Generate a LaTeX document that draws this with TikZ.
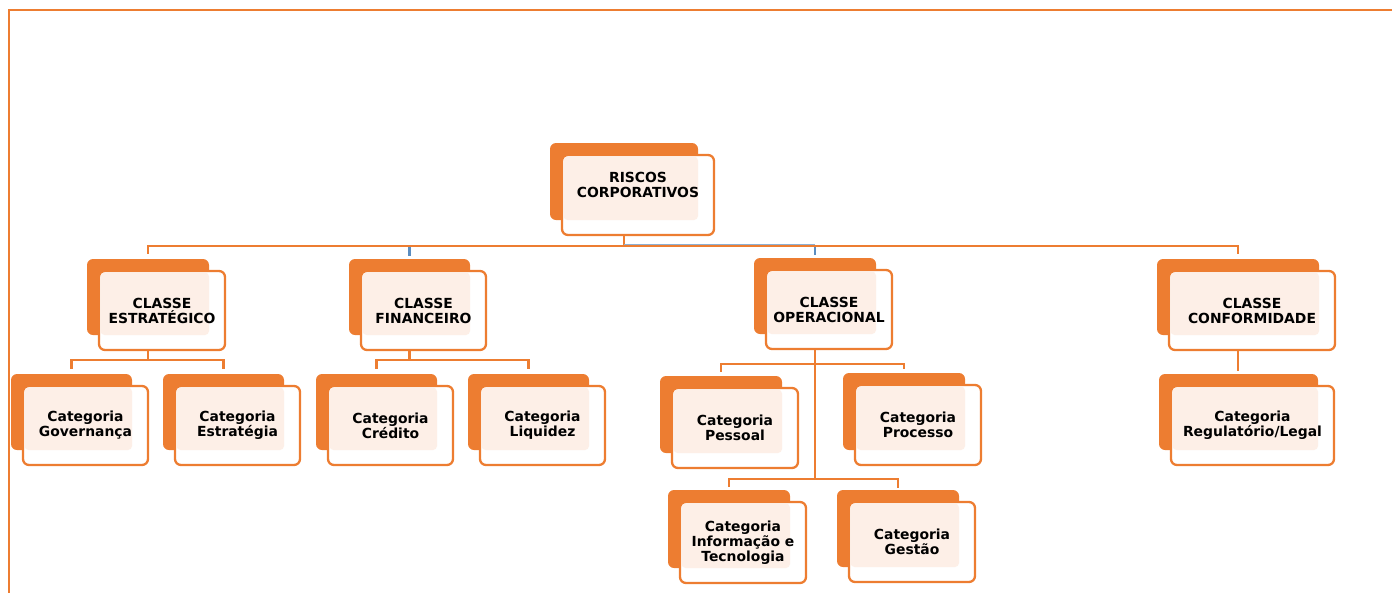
\documentclass[tikz,border=0pt]{standalone}
\usepackage{fontspec}
\setmainfont{DejaVu Sans}
\usetikzlibrary{fit,calc,backgrounds}

\definecolor{laranja}{HTML}{ED7D31}
\definecolor{pessego}{HTML}{FDEFE7}
\definecolor{azul}{HTML}{5B8DC0}

% box: [text shift] name, front corners x1 y1 x2 y2, text
\newcommand{\caixa}[7][0pt]{%
    \node[fundo, fit={({#3-12},{#4-12}) ({#5-16},{#6-15})}] (#2) {};
    \node[frente, fit={(#3,#4) (#5,#6)}] (#2-f) {};
    \fill[pessego, rounded corners=4pt] ({#3+1.5},{#4+1.5}) rectangle ({#5-16},{#6-15});
    \node[texto, yshift=#1] (#2-t) at (#2-f.center) {#7};
}

\begin{document}
\begin{tikzpicture}[x=1pt, y=-1pt,
    fundo/.style={fill=laranja, rounded corners=6pt, inner sep=0pt},
    frente/.style={draw=laranja, fill=white, line width=2.3pt, rounded corners=6pt, inner sep=0pt},
    texto/.style={font=\fontsize{13.9}{15}\selectfont\bfseries, align=center, inner sep=0pt},
    liga/.style={draw=laranja, line width=2.3pt},
    ligaazul/.style={draw=azul, line width=2.3pt}]

    \useasboundingbox (0,0) rectangle (1392,592);

    % Frame
    \draw[laranja, line width=2.3pt] (1393,10) -- (9,10) -- (9,593);

    %% Root
    \caixa[10pt]{raiz}{562}{155}{714}{235}{RISCOS\\CORPORATIVOS}

    %% Classes
    \caixa{estr}{99}{271}{225}{350}{CLASSE\\ESTRATÉGICO}
    \caixa{fin}{361}{271}{486}{350}{CLASSE\\FINANCEIRO}
    \caixa{oper}{766}{270}{892}{349}{CLASSE\\OPERACIONAL}
    \caixa{conf}{1169}{271}{1335}{350}{CLASSE\\CONFORMIDADE}

    %% Categories
    % Estrategico
    \caixa{gov}{23}{386}{148}{465}{Categoria\\Governança}
    \caixa{estrat}{175}{386}{300}{465}{Categoria\\Estratégia}
    % Financeiro
    \caixa{cred}{328}{386}{453}{465}{Categoria\\Crédito}
    \caixa{liq}{480}{386}{605}{465}{Categoria\\Liquidez}
    % Operacional
    \caixa{pess}{672}{388}{798}{468}{Categoria\\Pessoal}
    \caixa{proc}{855}{385}{981}{465}{Categoria\\Processo}
    \caixa{info}{680}{502}{806}{583}{Categoria\\Informação e\\Tecnologia}
    \caixa{gest}{849}{502}{975}{582}{Categoria\\Gestão}
    % Conformidade
    \caixa{reg}{1171}{386}{1334}{465}{Categoria\\Regulatório/Legal}

    %% Connectors
    \begin{pgfonlayer}{background}
        % Root to classes
        \draw[liga] (raiz.south) -- ++(0,26) coordinate (barra);
        \draw[liga] ($(estr.north)+(0,-5)$) |- (barra) -| ($(conf.north)+(0,-5)$);
        \draw[ligaazul] ($(fin.north)+(0,-3)$) -- ($(fin.north |- barra)+(0,1)$);
        \draw[ligaazul] ($(oper.north)+(0,-3)$) -- ($(oper.north |- barra)+(0,1)$);
        \draw[azul!70, line width=1.2pt] ($(barra)+(0,-2)$) -- ($(oper.north |- barra)+(0,-2)$);

        % Estrategico
        \draw[liga] (estr.south) -- ++(0,25) coordinate (b1);
        \draw[liga] ($(gov.north)+(0,-5)$) |- (b1) -| ($(estrat.north)+(0,-5)$);

        % Financeiro
        \draw[liga] (fin.south) -- ++(0,25) coordinate (b2);
        \draw[liga] ($(cred.north)+(0,-5)$) |- (b2) -| ($(liq.north)+(0,-5)$);

        % Operacional
        \draw[liga] (oper.south) -- ++(0,145) coordinate (b4);
        \coordinate (b3) at ($(oper.south)+(0,30)$);
        \draw[liga] ($(pess.north)+(0,-4)$) |- (b3) -| ($(proc.north)+(0,-4)$);
        \draw[liga] ($(info.north)+(0,-3)$) |- (b4) -| ($(gest.north)+(0,-2)$);

        % Conformidade
        \draw[liga] (conf.south) -- ($(conf.south |- reg.north)+(0,-3)$);
    \end{pgfonlayer}

\end{tikzpicture}
\end{document}
